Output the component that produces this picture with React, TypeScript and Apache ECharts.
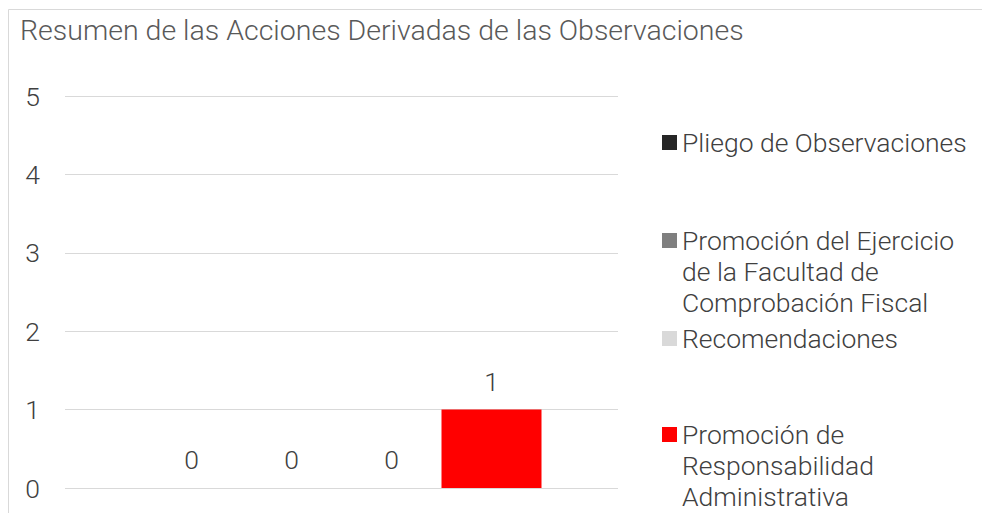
import React, { useEffect, useRef } from "react";
import * as echarts from "echarts";

const TITLE = "Resumen de las Acciones Derivadas de las Observaciones";
const CATEGORIES = [""];
const SERIES_NAMES = [
  "Pliego de Observaciones",
  "Promoción del Ejercicio de la Facultad de Comprobación Fiscal",
  "Recomendaciones",
  "Promoción de Responsabilidad Administrativa",
];
const LEGEND_LINES = [
  ["Pliego de Observaciones"],
  ["Promoción del Ejercicio", "de la Facultad de", "Comprobación Fiscal"],
  ["Recomendaciones"],
  ["Promoción de", "Responsabilidad", "Administrativa"],
];
const SERIES_VALUES = [[0], [0], [0], [1]];
const SERIES_COLORS = ["#262626", "#7f7f7f", "#d9d9d9", "#ff0000"];
const Y_MIN = 0;
const Y_MAX = 5;
const Y_INTERVAL = 1;

const FONT = "Roboto";
const LEGEND_ICON_CENTERS = [142.5, 240.5, 338.5, 434.5];
const LINE_H = 31;
const FS = 26.5;
const TEXT_COLOR = "#404040";

export default function App() {
  const ref = useRef<HTMLDivElement>(null);
  useEffect(() => {
    if (!ref.current) return;
    const chart = echarts.init(ref.current, undefined, { renderer: "svg" });
    const legends = SERIES_NAMES.map((name, i) => {
      const lines = LEGEND_LINES[i];
      const blanks = lines.length - 1;
      const allLines = [...Array(blanks).fill(""), ...lines];
      const boxH = allLines.length * LINE_H;
      return {
        show: true,
        data: [name],
        left: 662,
        top: LEGEND_ICON_CENTERS[i] - boxH / 2,
        padding: 0,
        orient: "vertical",
        itemWidth: 15,
        itemHeight: 15,
        icon: "rect",
        selectedMode: false,
        formatter: () => allLines.join("\n"),
        textStyle: {
          fontFamily: FONT,
          fontWeight: 300,
          fontSize: FS,
          lineHeight: LINE_H,
          color: TEXT_COLOR,
        },
      };
    });
    chart.setOption({
      animation: false,
      backgroundColor: "#ffffff",
      title: {
        text: TITLE,
        left: 20,
        top: 16,
        padding: 0,
        textStyle: {
          fontFamily: FONT,
          fontWeight: 300,
          fontSize: 28.5,
          color: "#595959",
        },
      },
      graphic: [
        {
          type: "rect",
          shape: { x: 8.5, y: 9.5, width: 1200, height: 800 },
          style: { fill: "none", stroke: "#d9d9d9", lineWidth: 1 },
          silent: true,
          z: -10,
        },
      ],
      legend: legends,
      grid: { left: 65, right: 364, top: 96, bottom: 25, containLabel: false },
      xAxis: {
        type: "category",
        data: CATEGORIES,
        axisLine: { show: false },
        axisTick: { show: false },
        axisLabel: { show: false },
      },
      yAxis: {
        type: "value",
        min: Y_MIN,
        max: Y_MAX,
        interval: Y_INTERVAL,
        axisLine: { show: false },
        axisTick: { show: false },
        axisLabel: {
          margin: 25,
          fontFamily: FONT,
          fontWeight: 300,
          fontSize: FS,
          color: TEXT_COLOR,
        },
        splitLine: { lineStyle: { color: "#d9d9d9", width: 1 } },
      },
      series: SERIES_NAMES.map((name, i) => ({
        type: "bar",
        name,
        data: SERIES_VALUES[i],
        barWidth: 100,
        barGap: "0%",
        itemStyle: { color: SERIES_COLORS[i] },
        label: {
          show: true,
          position: "top",
          distance: 15,
          fontFamily: FONT,
          fontWeight: 300,
          fontSize: FS,
          color: TEXT_COLOR,
        },
      })),
    });
    return () => chart.dispose();
  }, []);
  return (
    <div
      ref={ref}
      style={{ position: "absolute", left: 0, top: 0, width: 982, height: 513 }}
    />
  );
}
